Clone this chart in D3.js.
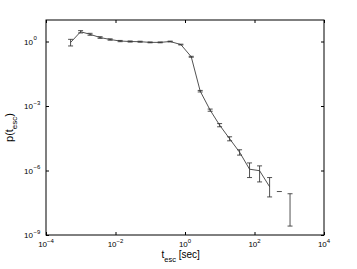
<!DOCTYPE html>
<html>
<head>
<meta charset="utf-8">
<script src="https://cdn.jsdelivr.net/npm/d3@7"></script>
<style>
  body { margin: 0; background: #fff; }
  svg { display: block; }
</style>
</head>
<body>
<div id="chart"></div>
<script>
// escape time bins [sec]
const tEsc = [5.1e-4, 9.9e-4, 1.85e-3, 3.6e-3, 7.0e-3, 1.36e-2, 2.64e-2, 5.1e-2, 9.9e-2, 0.193, 0.374, 0.76,
              1.51, 2.74, 5.3, 9.9, 19.2, 37.2, 72, 140, 272, 519, 1054];
// probability density (null = zero, not drawn on log axis)
const pEsc = [0.9, 2.85, 2.16, 1.53, 1.24, 1.05, 1.0, 0.98, 0.91, 0.91, 1.0, 0.72,
              0.195, 4.9e-3, 6.4e-4, 1.29e-4, 3.0e-5, 7.1e-6, 1.15e-6, 9.8e-7, 1.76e-7, null, 4.3e-8];
// error bar ends
const pLo = [0.62, 2.5, 1.95, 1.4, 1.15, 0.98, 0.94, 0.93, 0.87, 0.87, 0.96, 0.69,
             0.185, 4.5e-3, 5.7e-4, 1.08e-4, 2.4e-5, 5.2e-6, 4.7e-7, 2.94e-7, 5.9e-8, null, 2.6e-9];
const pHi = [1.26, 3.2, 2.4, 1.67, 1.33, 1.12, 1.06, 1.03, 0.95, 0.95, 1.04, 0.75,
             0.205, 5.3e-3, 7.2e-4, 1.52e-4, 3.7e-5, 9.2e-6, 2.25e-6, 1.64e-6, 4.7e-7, 1.05e-7, 8.3e-8];

const xTicks = [1e-4, 1e-2, 1, 1e2, 1e4];
const xExp = ["\u22124", "\u22122", "0", "2", "4"];
const yTicks = [1e-9, 1e-6, 1e-3, 1];
const yExp = ["\u22129", "\u22126", "\u22123", "0"];

const width = 357, height = 269;
const margin = {top: 20, right: 33, bottom: 34, left: 46};
const font = "'Liberation Sans', Arial, Helvetica, sans-serif";

const svg = d3.select("#chart").append("svg")
    .attr("width", width)
    .attr("height", height);

const x = d3.scaleLog()
    .domain([1e-4, 1e4])
    .range([margin.left, width - margin.right]);

const y = d3.scaleLog()
    .domain([1e-9, 1e1])
    .range([height - margin.bottom, margin.top]);

const data = tEsc.map((t, i) => ({t: t, p: pEsc[i], lo: pLo[i], hi: pHi[i]}));

// frame with inward ticks on all sides
svg.append("rect")
    .attr("x", margin.left)
    .attr("y", margin.top)
    .attr("width", width - margin.left - margin.right)
    .attr("height", height - margin.top - margin.bottom)
    .attr("fill", "none")
    .attr("stroke", "#000")
    .attr("stroke-width", 1);

const tickLen = 3;
svg.append("g")
    .attr("transform", `translate(0,${height - margin.bottom})`)
    .call(d3.axisBottom(x).tickValues(xTicks).tickSize(-tickLen).tickFormat(""))
    .call(g => g.select(".domain").remove());
svg.append("g")
    .attr("transform", `translate(0,${margin.top})`)
    .call(d3.axisTop(x).tickValues(xTicks).tickSize(-tickLen).tickFormat(""))
    .call(g => g.select(".domain").remove());
svg.append("g")
    .attr("transform", `translate(${margin.left},0)`)
    .call(d3.axisLeft(y).tickValues(yTicks).tickSize(-tickLen).tickFormat(""))
    .call(g => g.select(".domain").remove());
svg.append("g")
    .attr("transform", `translate(${width - margin.right},0)`)
    .call(d3.axisRight(y).tickValues(yTicks).tickSize(-tickLen).tickFormat(""))
    .call(g => g.select(".domain").remove());

// x tick labels
const xl = svg.append("g").selectAll("text")
    .data(xTicks)
    .join("text")
    .attr("x", d => x(d))
    .attr("y", height - margin.bottom + 12)
    .attr("text-anchor", "middle")
    .attr("font-family", font)
    .attr("font-size", 8);
xl.append("tspan").text("10");
xl.append("tspan").attr("dy", -4.5).attr("font-size", 6).text((d, i) => xExp[i]);

// y tick labels
const yl = svg.append("g").selectAll("g")
    .data(yTicks)
    .join("g")
    .attr("font-family", font);
yl.append("text")
    .attr("x", 33)
    .attr("y", d => y(d) + 3)
    .attr("text-anchor", "end")
    .attr("font-size", 8)
    .text("10");
yl.append("text")
    .attr("x", 33.5)
    .attr("y", d => y(d) - 1.5)
    .attr("font-size", 6)
    .text((d, i) => yExp[i]);

// axis labels
const xlab = svg.append("text")
    .attr("x", 161.5)
    .attr("y", 258)
    .attr("font-family", font)
    .attr("font-size", 10);
xlab.append("tspan").text("t");
xlab.append("tspan").attr("dy", 3.5).attr("font-size", 7.5).text("esc");
xlab.append("tspan").attr("dy", -3.5).text(" [sec]");

const ylab = svg.append("text")
    .attr("transform", `translate(12.5,${(margin.top + height - margin.bottom) / 2}) rotate(-90)`)
    .attr("text-anchor", "middle")
    .attr("font-family", font)
    .attr("font-size", 11);
ylab.append("tspan").text("p(t");
ylab.append("tspan").attr("dy", 4).attr("font-size", 8).text("esc");
ylab.append("tspan").attr("dy", -4).text(")");

// curve
const line = d3.line()
    .defined(d => d.p != null)
    .x(d => x(d.t))
    .y(d => y(d.p));

svg.append("path")
    .datum(data)
    .attr("fill", "none")
    .attr("stroke", "#333")
    .attr("stroke-width", 0.85)
    .attr("d", line);

// error bars
const cap = 2.5;
const eb = svg.append("g")
    .attr("stroke", "#333")
    .attr("stroke-width", 0.85)
    .selectAll("g")
    .data(data)
    .join("g");

eb.filter(d => d.lo != null).append("line")
    .attr("x1", d => x(d.t)).attr("x2", d => x(d.t))
    .attr("y1", d => y(d.lo)).attr("y2", d => y(d.hi));
eb.filter(d => d.lo != null).append("line")
    .attr("x1", d => x(d.t) - cap).attr("x2", d => x(d.t) + cap)
    .attr("y1", d => y(d.lo)).attr("y2", d => y(d.lo));
eb.append("line")
    .attr("x1", d => x(d.t) - cap).attr("x2", d => x(d.t) + cap)
    .attr("y1", d => y(d.hi)).attr("y2", d => y(d.hi));
</script>
</body>
</html>
